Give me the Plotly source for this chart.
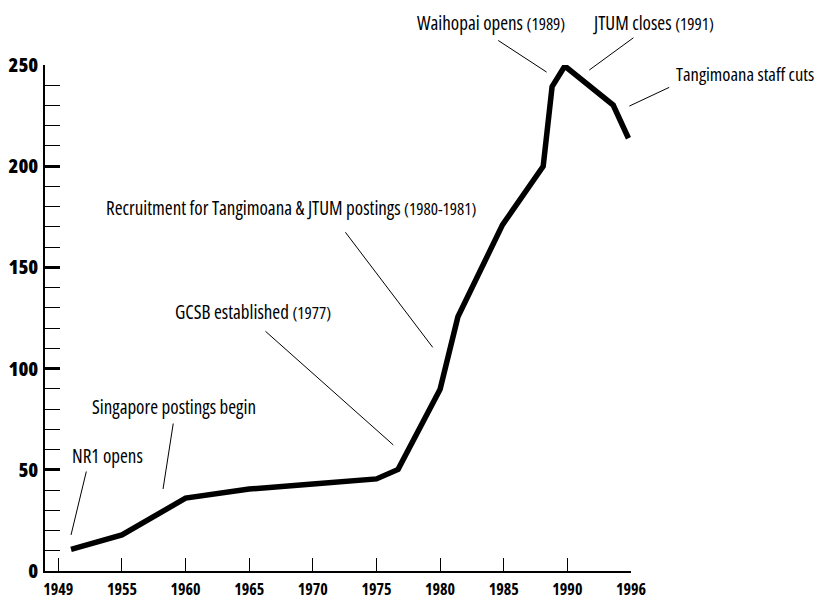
import plotly.graph_objects as go

# ---- data ----
years = [1951, 1955, 1960, 1965, 1970, 1975, 1976.7, 1980, 1981.4, 1984.9, 1988.1, 1988.8, 1989.8, 1993.6, 1994.8]
staff = [10.7, 17.8, 36, 40.5, 43, 45.5, 50.2, 89.8, 125.6, 171, 200, 239.3, 249.5, 230.2, 213.8]

tick_years = [1950, 1955, 1960, 1965, 1970, 1975, 1980, 1985, 1990, 1995]
tick_labels = ["1949", "1955", "1960", "1965", "1970", "1975", "1980", "1985", "1990", "1996"]
y_ticks = [0, 50, 100, 150, 200, 250]

X_RANGE = [1948.955, 1995.0]
Y_RANGE = [0, 250]

SMALL = "<span style='font-size:17px'>"
notes = [
    "NR1 opens",
    "Singapore postings begin",
    "GCSB established " + SMALL + "(1977)</span>",
    "Recruitment for Tangimoana &amp; JTUM postings " + SMALL + "(1980-1981)</span>",
    "Waihopai opens " + SMALL + "(1989)</span>",
    "JTUM closes " + SMALL + "(1991)</span>",
    "Tangimoana staff cuts",
]
note_x = [1951.1, 1952.62, 1959.17, 1953.75, 1978.21, 1991.99, 1998.55]
note_y = [56.6, 80.8, 128.1, 179.2, 270.8, 270.8, 245.6]
note_size = [19, 19, 19, 19, 19, 19, 18.5]
lead_from_x = [1952.23, 1959.05, 1966.16, 1972.47, 1984.45, 1995.31, 1998.12]
lead_from_y = [49.9, 73.6, 119.1, 168.1, 262.6, 264.0, 239.3]
lead_to_x = [1951.0, 1958.23, 1976.32, 1979.42, 1988.37, 1991.72, 1994.87]
lead_to_y = [17.8, 40.5, 62.3, 110.5, 246.5, 247.5, 229.7]

FONT = "Open Sans, Roboto, sans-serif"


def cond(s, weight=500):
    return "<span style='font-stretch:condensed;font-weight:%d'>%s</span>" % (weight, s)


def to_paper_x(v):
    return (v - X_RANGE[0]) / (X_RANGE[1] - X_RANGE[0])


def to_paper_y(v):
    return (v - Y_RANGE[0]) / (Y_RANGE[1] - Y_RANGE[0])


fig = go.Figure()
fig.add_trace(go.Scatter(
    x=years, y=staff, mode="lines",
    line=dict(color="black", width=5.5),
    hoverinfo="skip", showlegend=False,
))

annotations = []
for t, x, y, sz in zip(notes, note_x, note_y, note_size):
    annotations.append(dict(
        text=cond(t, 500), x=to_paper_x(x), y=to_paper_y(y), xref="paper", yref="paper",
        xanchor="left", yanchor="middle", showarrow=False, xshift=-2,
        font=dict(family=FONT, size=sz, color="black"),
    ))
for x0, y0, x1, y1 in zip(lead_from_x, lead_from_y, lead_to_x, lead_to_y):
    annotations.append(dict(
        text="", x=x1, y=y1, xref="x", yref="y",
        ax=x0, ay=y0, axref="x", ayref="y",
        showarrow=True, arrowhead=0, arrowwidth=1, arrowcolor="black",
        standoff=0, startstandoff=0,
    ))

# page body has an 8px default margin; size the figure so the plot lands where intended
fig.update_layout(
    width=819, height=591,
    margin=dict(l=37, r=196, t=57, b=28),
    paper_bgcolor="white", plot_bgcolor="white",
    annotations=annotations,
    xaxis=dict(
        range=X_RANGE, automargin=False,
        tickvals=tick_years, ticktext=[cond(s, 700) for s in tick_labels],
        ticks="inside", ticklen=13, tickwidth=1.2, tickcolor="black",
        showline=True, linecolor="black", linewidth=1.5,
        showgrid=False, zeroline=False, ticklabelstandoff=3,
        tickfont=dict(family=FONT, size=16, color="black"),
    ),
    yaxis=dict(
        range=Y_RANGE, automargin=False,
        tickvals=y_ticks, ticktext=[cond(str(v), 800) for v in y_ticks],
        ticks="inside", ticklen=15, tickwidth=3, tickcolor="black",
        minor=dict(dtick=10, ticks="inside", ticklen=15, tickwidth=1, tickcolor="black"),
        showline=True, linecolor="black", linewidth=1.5,
        showgrid=False, zeroline=False, ticklabelstandoff=1,
        tickfont=dict(family=FONT, size=20, color="black"),
    ),
)

fig.write_html("out.html")
